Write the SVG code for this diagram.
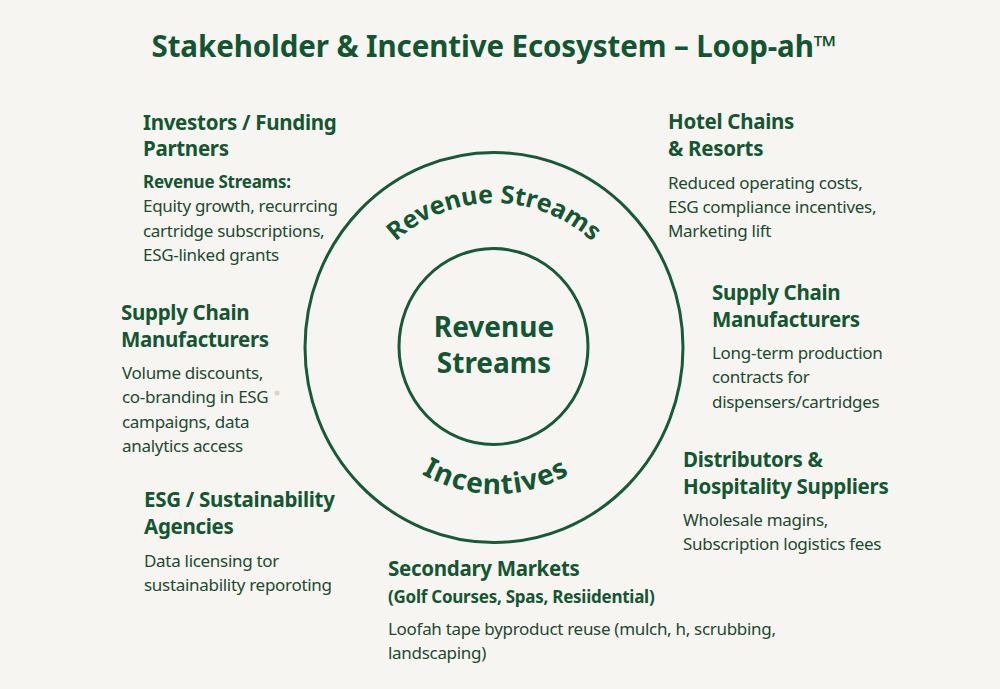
<svg xmlns="http://www.w3.org/2000/svg" width="1000" height="689" viewBox="0 0 1000 689">
  <defs>
    <style>
      .bg { fill: #f6f5f1; }
      .ring { fill: none; stroke: #175a35; stroke-width: 3; }
      text { font-family: "Noto Sans", "Open Sans", "Liberation Sans", sans-serif; }
      .title { font-size: 29.5px; font-weight: 700; fill: #145531; letter-spacing: -0.1px; }
      .head { font-size: 20.5px; font-weight: 700; fill: #155632; letter-spacing: -0.3px; }
      .sub { font-size: 17px; font-weight: 700; fill: #155632; letter-spacing: -0.25px; }
      .body { font-size: 17px; fill: #1c4a30; letter-spacing: -0.3px; }
      .arc { font-weight: 700; fill: #155632; }
      .center { font-size: 28px; font-weight: 700; fill: #155632; text-anchor: middle; }
    </style>
    <path id="topArc" d="M 350 347 A 144 144 0 0 1 638 347"/>
    <path id="botArc" d="M 349 347 A 147 147 0 0 0 643 347"/>
  </defs>
  <rect class="bg" x="0" y="0" width="1000" height="689"/>

  <text class="title" x="494" y="57" text-anchor="middle">Stakeholder &amp; Incentive Ecosystem – Loop-ah™</text>

  <g id="rings">
    <ellipse class="ring" cx="494" cy="347.5" rx="189" ry="195"/>
    <ellipse class="ring" cx="493.5" cy="346.5" rx="94.5" ry="98"/>
  </g>

  <g id="ring-labels">
    <text class="arc" font-size="25" letter-spacing="0"><textPath href="#topArc" startOffset="50%" text-anchor="middle">Revenue Streams</textPath></text>
    <text class="arc" font-size="28" letter-spacing="1"><textPath href="#botArc" startOffset="50%" text-anchor="middle">Incentives</textPath></text>
  </g>

  <g id="center-node">
    <text class="center" x="494" y="337">Revenue</text>
    <text class="center" x="494" y="373">Streams</text>
  </g>

  <g id="investors">
    <text class="head" x="143" y="130">Investors / Funding</text>
    <text class="head" x="143" y="156">Partners</text>
    <text class="sub" x="143" y="188" font-size="16">Revenue Streams:</text>
    <text class="body" x="143" y="212">Equity growth, recurrcing</text>
    <text class="body" x="143" y="237">cartridge subscriptions,</text>
    <text class="body" x="143" y="261">ESG-linked grants</text>
  </g>

  <g id="hotels">
    <text class="head" x="668" y="129">Hotel Chains</text>
    <text class="head" x="668" y="156">&amp; Resorts</text>
    <text class="body" x="668" y="189">Reduced operating costs,</text>
    <text class="body" x="668" y="213">ESG compliance incentives,</text>
    <text class="body" x="668" y="237">Marketing lift</text>
  </g>

  <g id="supply-left">
    <text class="head" x="121" y="320">Supply Chain</text>
    <text class="head" x="121" y="347">Manufacturers</text>
    <text class="body" x="122" y="379">Volume discounts,</text>
    <text class="body" x="122" y="403">co-branding in ESG</text>
    <text class="body" x="122" y="428">campaigns, data</text>
    <text class="body" x="122" y="452">analytics access</text>
    <circle cx="277" cy="393" r="2.5" fill="#d6d8c8"/>
  </g>

  <g id="supply-right">
    <text class="head" x="712" y="300">Supply Chain</text>
    <text class="head" x="712" y="327">Manufacturers</text>
    <text class="body" x="712" y="359">Long-term production</text>
    <text class="body" x="712" y="383">contracts for</text>
    <text class="body" x="712" y="408">dispensers/cartridges</text>
  </g>

  <g id="esg">
    <text class="head" x="144" y="507">ESG / Sustainability</text>
    <text class="head" x="144" y="534">Agencies</text>
    <text class="body" x="144" y="567">Data licensing tor</text>
    <text class="body" x="144" y="591">sustainability reporoting</text>
  </g>

  <g id="distributors">
    <text class="head" x="683" y="467">Distributors &amp;</text>
    <text class="head" x="683" y="494">Hospitality  Suppliers</text>
    <text class="body" x="683" y="526">Wholesale magins,</text>
    <text class="body" x="683" y="550">Subscription logistics fees</text>
  </g>

  <g id="secondary">
    <text class="head" x="388" y="576">Secondary Markets</text>
    <text class="sub" x="388" y="603">(Golf Courses, Spas, Resiidential)</text>
    <text class="body" x="388" y="635">Loofah tape byproduct reuse (mulch, h, scrubbing,</text>
    <text class="body" x="388" y="659">landscaping)</text>
  </g>
</svg>
